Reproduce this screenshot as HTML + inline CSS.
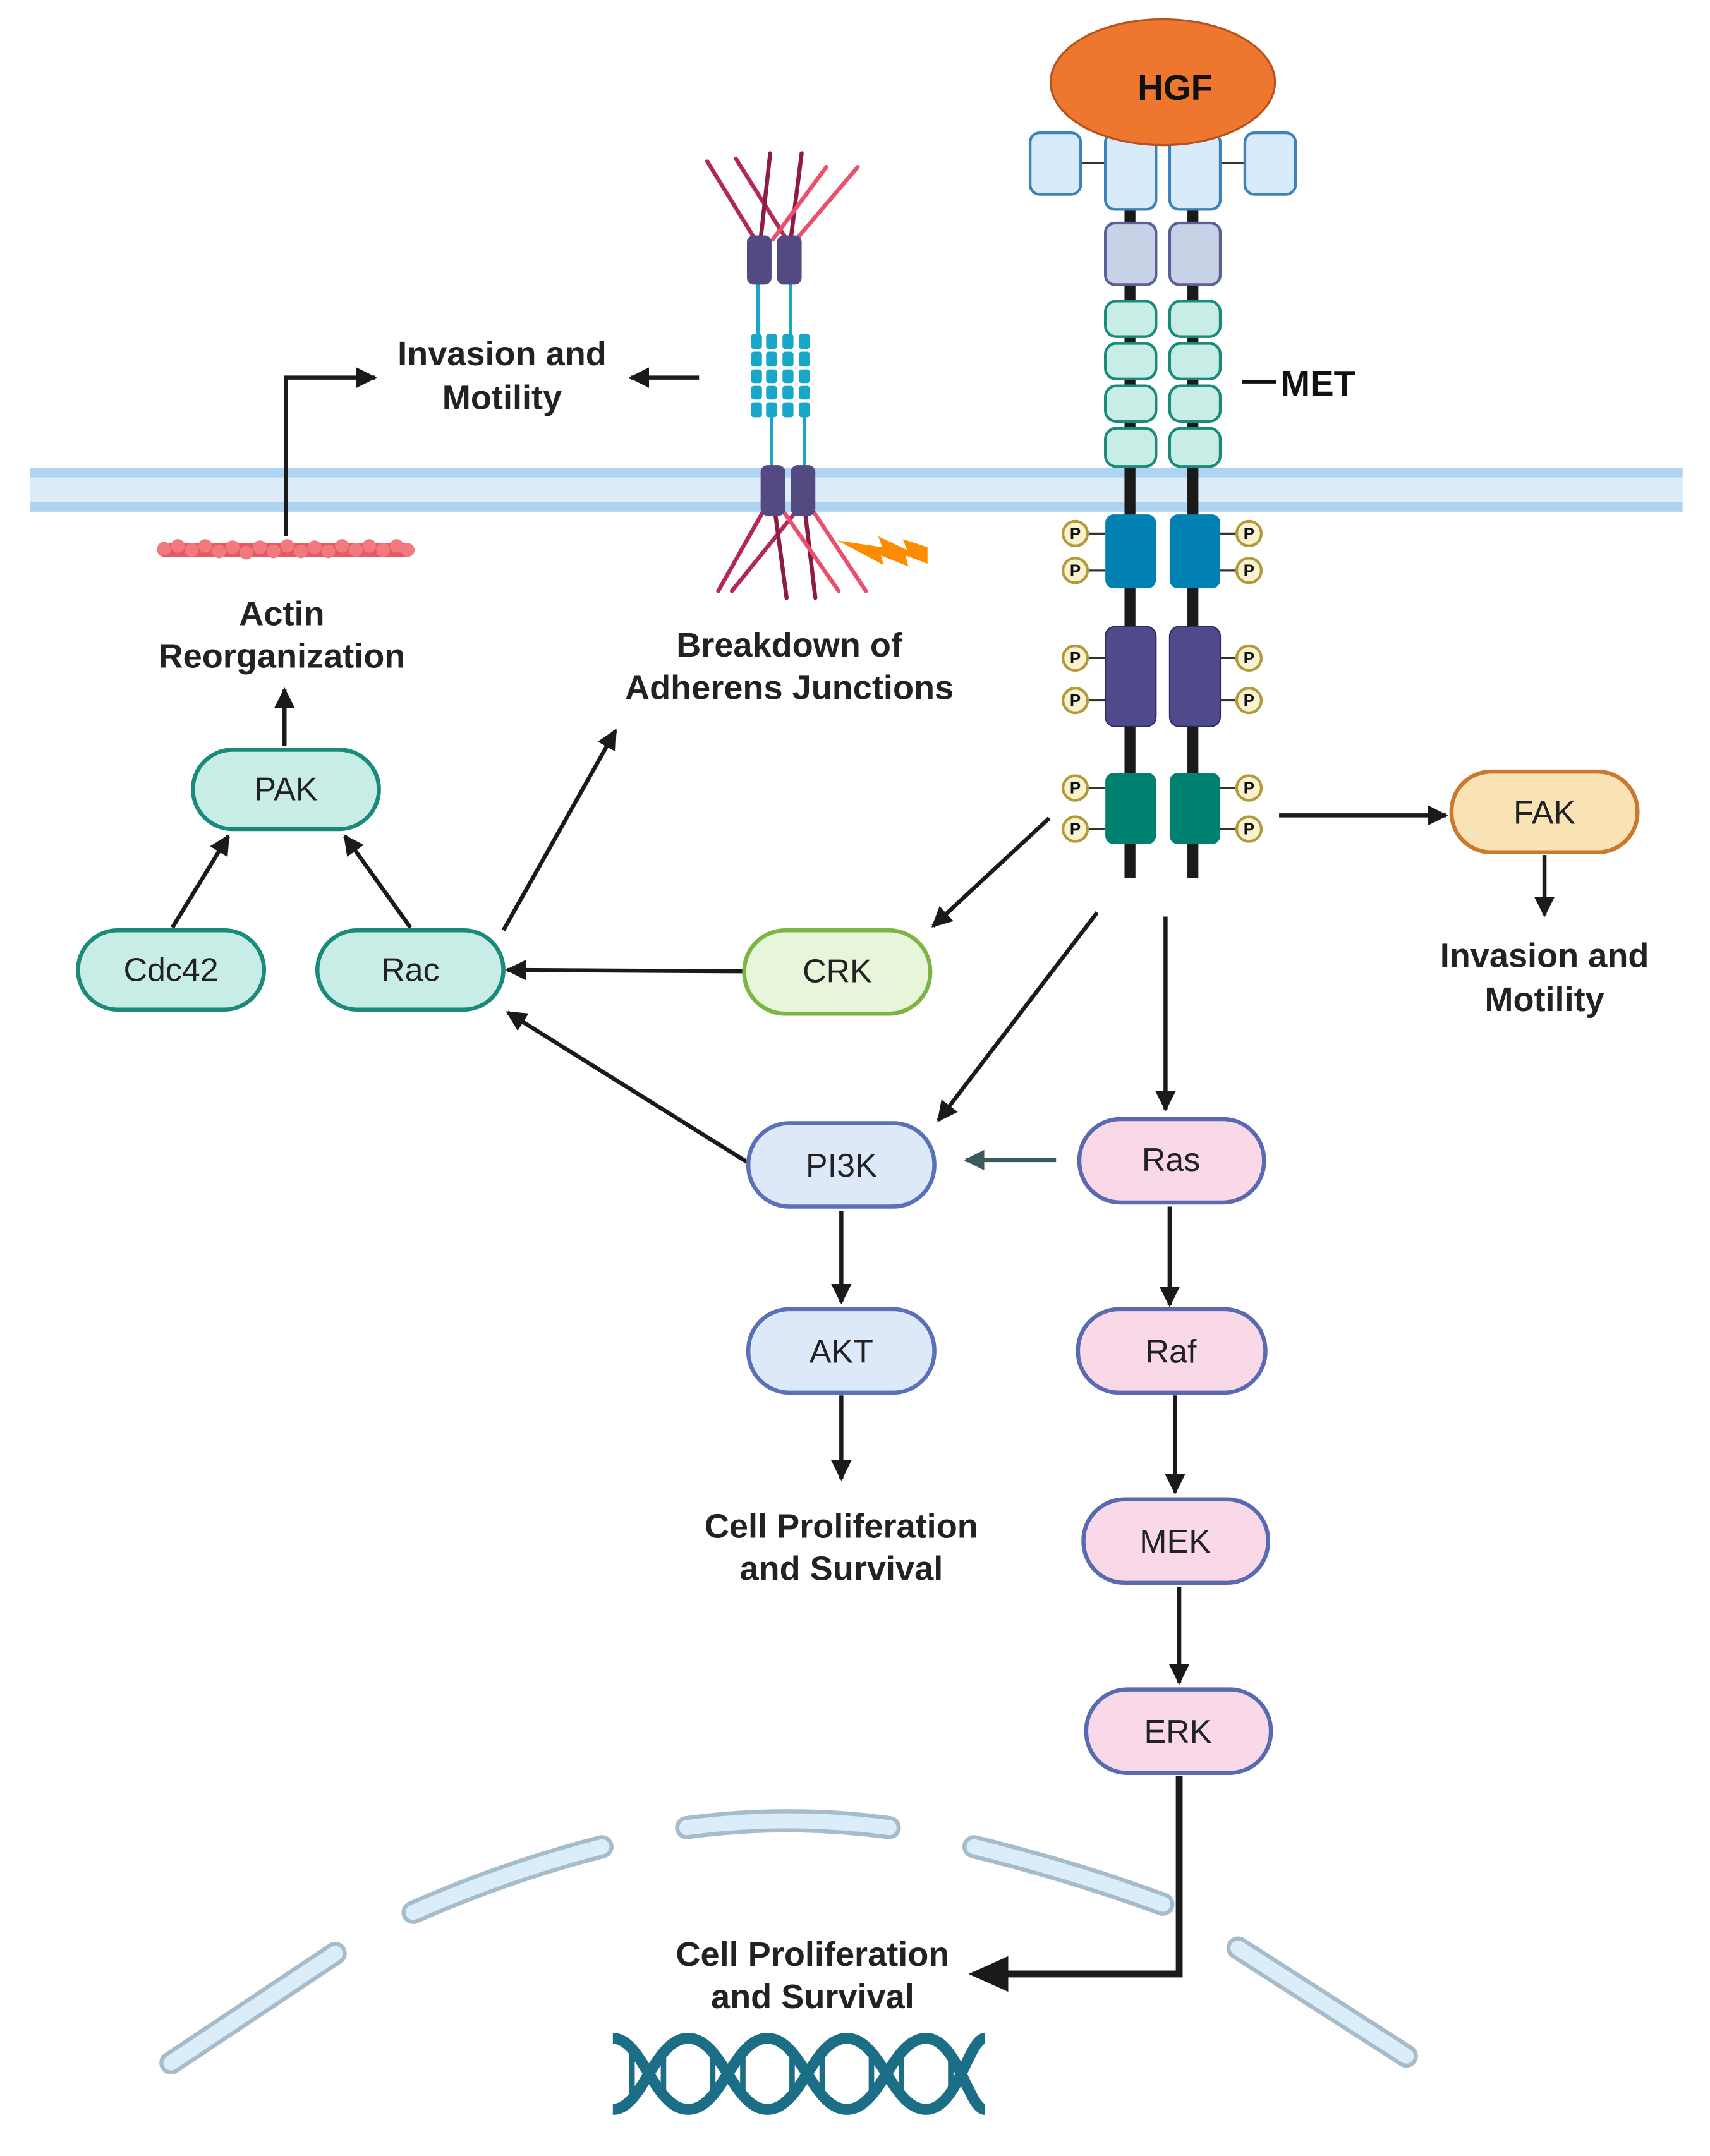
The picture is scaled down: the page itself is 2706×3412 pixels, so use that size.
<!DOCTYPE html>
<html><head><meta charset="utf-8"><style>html,body{margin:0;padding:0;background:#fff}svg{display:block}</style></head>
<body>
<svg width="2706" height="3412" viewBox="0 0 1250 1576" xmlns="http://www.w3.org/2000/svg" font-family="Liberation Sans, sans-serif">
<defs>
<marker id="ah" viewBox="0 0 10 10" refX="9" refY="5" markerWidth="5" markerHeight="5" orient="auto"><path d="M0,0L10,5L0,10z" fill="#1a1a1a"/></marker>
<marker id="ahg" viewBox="0 0 10 10" refX="9" refY="5" markerWidth="5" markerHeight="5" orient="auto"><path d="M0,0L10,5L0,10z" fill="#3c5a5a"/></marker>
</defs>
<rect width="1250" height="1576" fill="#fff"/>
<rect x="22" y="342" width="1208" height="32" fill="#dcecfa"/>
<rect x="22" y="342" width="1208" height="7" fill="#aed4f2"/>
<rect x="22" y="367" width="1208" height="7" fill="#aed4f2"/>

<g fill="none" stroke-linecap="round">
<g stroke="#a7bccb" stroke-width="17">
<path d="M125,1508L245,1428"/><path d="M302,1398Q370,1368 440,1350"/><path d="M502,1336Q576,1326 650,1336"/><path d="M712,1350Q785,1368 850,1392"/><path d="M905,1424L1028,1503"/>
</g>
<g stroke="#dcedfa" stroke-width="11">
<path d="M125,1508L245,1428"/><path d="M302,1398Q370,1368 440,1350"/><path d="M502,1336Q576,1326 650,1336"/><path d="M712,1350Q785,1368 850,1392"/><path d="M905,1424L1028,1503"/>
</g>
</g>
<g stroke="#1b6e86" stroke-width="8" fill="none">
<path d="M448,1490 C470,1490 478,1542 503,1542 C528,1542 536,1490 561,1490 C586,1490 594,1542 619,1542 C644,1542 652,1490 677,1490 C700,1490 708,1542 720,1542"/>
<path d="M448,1542 C470,1542 478,1490 503,1490 C528,1490 536,1542 561,1542 C586,1542 594,1490 619,1490 C644,1490 652,1542 677,1542 C700,1542 708,1490 720,1490"/>
<g stroke-width="4">
<path d="M462,1500V1532M485,1500V1532M521,1500V1532M543,1500V1532M579,1500V1532M601,1500V1532M637,1500V1532M659,1500V1532M695,1500V1532"/>
</g>
</g>

<g stroke-width="3" stroke-linecap="round">
<line x1="517" y1="118" x2="552" y2="175" stroke="#b02a55"/>
<line x1="538" y1="116" x2="575" y2="175" stroke="#b02a55"/>
<line x1="563" y1="112" x2="556" y2="175" stroke="#8c1c44"/>
<line x1="586" y1="112" x2="578" y2="175" stroke="#8c1c44"/>
<line x1="604" y1="122" x2="565" y2="175" stroke="#e8506e"/>
<line x1="627" y1="122" x2="582" y2="175" stroke="#e8506e"/>
<line x1="560" y1="370" x2="525" y2="432" stroke="#b02a55"/>
<line x1="585" y1="370" x2="535" y2="432" stroke="#b02a55"/>
<line x1="566" y1="370" x2="575" y2="437" stroke="#8c1c44"/>
<line x1="588" y1="370" x2="596" y2="437" stroke="#8c1c44"/>
<line x1="570" y1="370" x2="613" y2="432" stroke="#e8506e"/>
<line x1="592" y1="370" x2="633" y2="432" stroke="#e8506e"/>
</g>
<g stroke="#1aa6c8" stroke-width="2.5">
<line x1="554" y1="205" x2="554" y2="245"/><line x1="578" y1="205" x2="578" y2="245"/>
<line x1="564" y1="300" x2="564" y2="342"/><line x1="588" y1="300" x2="588" y2="342"/>
</g>
<g fill="#17a8c9">
<rect x="549" y="244" width="8" height="11" rx="2"/><rect x="549" y="257" width="8" height="11" rx="2"/><rect x="549" y="270" width="8" height="10" rx="2"/><rect x="549" y="282" width="8" height="10" rx="2"/><rect x="549" y="294" width="8" height="11" rx="2"/>
<rect x="560" y="244" width="8" height="11" rx="2"/><rect x="560" y="257" width="8" height="11" rx="2"/><rect x="560" y="270" width="8" height="10" rx="2"/><rect x="560" y="282" width="8" height="10" rx="2"/><rect x="560" y="294" width="8" height="11" rx="2"/>
<rect x="572" y="244" width="8" height="11" rx="2"/><rect x="572" y="257" width="8" height="11" rx="2"/><rect x="572" y="270" width="8" height="10" rx="2"/><rect x="572" y="282" width="8" height="10" rx="2"/><rect x="572" y="294" width="8" height="11" rx="2"/>
<rect x="584" y="244" width="8" height="11" rx="2"/><rect x="584" y="257" width="8" height="11" rx="2"/><rect x="584" y="270" width="8" height="10" rx="2"/><rect x="584" y="282" width="8" height="10" rx="2"/><rect x="584" y="294" width="8" height="11" rx="2"/>
</g>
<g fill="#524a80">
<rect x="546" y="172" width="18" height="36" rx="5"/><rect x="568" y="172" width="18" height="36" rx="5"/>
<rect x="556" y="340" width="18" height="37" rx="5"/><rect x="578" y="340" width="18" height="37" rx="5"/>
</g>
<path d="M612,395L645,400L642,392L663,402L660,394L678,400L678,412L662,406L664,414L644,406L646,413Z" fill="#ff8c00"/>

<rect x="115" y="397" width="188" height="10" rx="5" fill="#e85a62"/>
<g fill="#f07a80">
<circle cx="120" cy="401" r="5"/><circle cx="130" cy="399" r="5"/><circle cx="140" cy="402" r="5"/><circle cx="150" cy="399" r="5"/><circle cx="160" cy="403" r="5"/><circle cx="170" cy="400" r="5"/><circle cx="180" cy="404" r="5"/><circle cx="190" cy="400" r="5"/><circle cx="200" cy="403" r="5"/><circle cx="210" cy="399" r="5"/><circle cx="220" cy="403" r="5"/><circle cx="230" cy="400" r="5"/><circle cx="240" cy="403" r="5"/><circle cx="250" cy="399" r="5"/><circle cx="260" cy="402" r="5"/><circle cx="270" cy="399" r="5"/><circle cx="280" cy="402" r="5"/><circle cx="290" cy="399" r="5"/><circle cx="298" cy="402" r="5"/>
</g>

<line x1="826" y1="100" x2="826" y2="642" stroke="#1a1a1a" stroke-width="8"/>
<line x1="872" y1="100" x2="872" y2="642" stroke="#1a1a1a" stroke-width="8"/>
<line x1="790" y1="119" x2="808" y2="119" stroke="#333" stroke-width="1.5"/>
<line x1="892" y1="119" x2="910" y2="119" stroke="#333" stroke-width="1.5"/>
<g fill="#d8ebfa" stroke="#3d82b8" stroke-width="2">
<rect x="753" y="97" width="37" height="45" rx="7"/><rect x="808" y="97" width="37" height="56" rx="7"/>
<rect x="855" y="97" width="37" height="56" rx="7"/><rect x="910" y="97" width="37" height="45" rx="7"/>
</g>
<ellipse cx="850" cy="60" rx="82" ry="46" fill="#ee7730" stroke="#b5521e" stroke-width="1.5"/>
<text x="859" y="73" font-size="26" font-weight="bold" text-anchor="middle" fill="#111">HGF</text>
<g fill="#c8d2e6" stroke="#5a5f95" stroke-width="2">
<rect x="808" y="163" width="37" height="45" rx="7"/><rect x="855" y="163" width="37" height="45" rx="7"/>
</g>
<g fill="#c8ede6" stroke="#1a8a7a" stroke-width="2">
<rect x="808" y="220" width="37" height="26" rx="8"/><rect x="855" y="220" width="37" height="26" rx="8"/>
<rect x="808" y="251" width="37" height="26" rx="8"/><rect x="855" y="251" width="37" height="26" rx="8"/>
<rect x="808" y="282" width="37" height="26" rx="8"/><rect x="855" y="282" width="37" height="26" rx="8"/>
<rect x="808" y="313" width="37" height="28" rx="8"/><rect x="855" y="313" width="37" height="28" rx="8"/>
</g>
<line x1="908" y1="279" x2="933" y2="279" stroke="#111" stroke-width="2.5"/>
<text x="936" y="289" font-size="26" font-weight="bold" fill="#111">MET</text>
<g stroke="#333" stroke-width="1.5">
<path d="M795,390H808M795,417H808M795,481H808M795,512H808M795,576H808M795,606H808"/>
<path d="M892,390H905M892,417H905M892,481H905M892,512H905M892,576H905M892,606H905"/>
</g>
<g fill="#0080b3"><rect x="808" y="376" width="37" height="54" rx="6"/><rect x="855" y="376" width="37" height="54" rx="6"/></g>
<g fill="#4f4a8c" stroke="#2f2b60" stroke-width="1"><rect x="808" y="458" width="37" height="73" rx="7"/><rect x="855" y="458" width="37" height="73" rx="7"/></g>
<g fill="#00806f"><rect x="808" y="565" width="37" height="52" rx="6"/><rect x="855" y="565" width="37" height="52" rx="6"/></g>
<g fill="#f8f2d0" stroke="#b29a3c" stroke-width="2">
<circle cx="786" cy="390" r="9"/><circle cx="786" cy="417" r="9"/><circle cx="786" cy="481" r="9"/><circle cx="786" cy="512" r="9"/><circle cx="786" cy="576" r="9"/><circle cx="786" cy="606" r="9"/>
<circle cx="913" cy="390" r="9"/><circle cx="913" cy="417" r="9"/><circle cx="913" cy="481" r="9"/><circle cx="913" cy="512" r="9"/><circle cx="913" cy="576" r="9"/><circle cx="913" cy="606" r="9"/>
</g>
<g font-size="12" font-weight="bold" text-anchor="middle" fill="#111">
<text x="786" y="394">P</text><text x="786" y="421">P</text><text x="786" y="485">P</text><text x="786" y="516">P</text><text x="786" y="580">P</text><text x="786" y="610">P</text>
<text x="913" y="394">P</text><text x="913" y="421">P</text><text x="913" y="485">P</text><text x="913" y="516">P</text><text x="913" y="580">P</text><text x="913" y="610">P</text>
</g>

<g stroke="#1a1a1a" stroke-width="3" fill="none" marker-end="url(#ah)">
<path d="M209,392V276H274"/>
<path d="M511,276H461"/>
<path d="M208,545V504"/>
<path d="M126,678L167,611"/>
<path d="M300,678L252,611"/>
<path d="M368,680L450,534"/>
<path d="M544,710L371,709"/>
<path d="M547,850L371,740"/>
<path d="M767,598L682,677"/>
<path d="M802,667L686,819"/>
<path d="M852,670V811"/>
<path d="M615,885V952"/>
<path d="M615,1020V1081"/>
<path d="M855,882V954"/>
<path d="M859,1020V1091"/>
<path d="M862,1160V1230"/>
<path d="M935,596H1057"/>
<path d="M1129,625V669"/>
</g>
<path d="M772,848H706" stroke="#3c5a5a" stroke-width="3" fill="none" marker-end="url(#ahg)"/>
<path d="M862,1298V1443H735" stroke="#1a1a1a" stroke-width="5" fill="none"/>
<path d="M708,1443L737,1430V1456Z" fill="#1a1a1a"/>

<g stroke-width="3">
<rect x="141" y="548" width="136" height="58" rx="29" fill="#c8ede6" stroke="#1a8a7a"/>
<rect x="57" y="680" width="136" height="58" rx="29" fill="#c8ede6" stroke="#1a8a7a"/>
<rect x="232" y="680" width="136" height="58" rx="29" fill="#c8ede6" stroke="#1a8a7a"/>
<rect x="544" y="680" width="136" height="61" rx="30" fill="#e7f5da" stroke="#7db545"/>
<rect x="547" y="821" width="136" height="61" rx="30" fill="#dde8f8" stroke="#5a70b8"/>
<rect x="547" y="957" width="136" height="61" rx="30" fill="#dde8f8" stroke="#5a70b8"/>
<rect x="789" y="818" width="135" height="61" rx="30" fill="#f9d9e8" stroke="#5a6ab0"/>
<rect x="788" y="957" width="137" height="61" rx="30" fill="#f9d9e8" stroke="#5a6ab0"/>
<rect x="792" y="1096" width="135" height="61" rx="30" fill="#f9d9e8" stroke="#5a6ab0"/>
<rect x="794" y="1235" width="135" height="61" rx="30" fill="#f9d9e8" stroke="#5a6ab0"/>
<rect x="1061" y="564" width="136" height="59" rx="29" fill="#f9e3b4" stroke="#c97a2e"/>
</g>
<g font-size="24" text-anchor="middle" fill="#222">
<text x="209" y="585">PAK</text>
<text x="125" y="717">Cdc42</text>
<text x="300" y="717">Rac</text>
<text x="612" y="718">CRK</text>
<text x="615" y="860">PI3K</text>
<text x="615" y="996">AKT</text>
<text x="856" y="856">Ras</text>
<text x="856" y="996">Raf</text>
<text x="859" y="1135">MEK</text>
<text x="861" y="1274">ERK</text>
<text x="1129" y="602">FAK</text>
</g>
<g font-size="25" font-weight="bold" text-anchor="middle" fill="#222">
<text x="367" y="267">Invasion and</text><text x="367" y="299">Motility</text>
<text x="206" y="457">Actin</text><text x="206" y="488">Reorganization</text>
<text x="577" y="480">Breakdown of</text><text x="577" y="511">Adherens Junctions</text>
<text x="1129" y="707">Invasion and</text><text x="1129" y="739">Motility</text>
<text x="615" y="1124">Cell Proliferation</text><text x="615" y="1155">and Survival</text>
<text x="594" y="1437">Cell Proliferation</text><text x="594" y="1468">and Survival</text>
</g>
</svg>
</body></html>
